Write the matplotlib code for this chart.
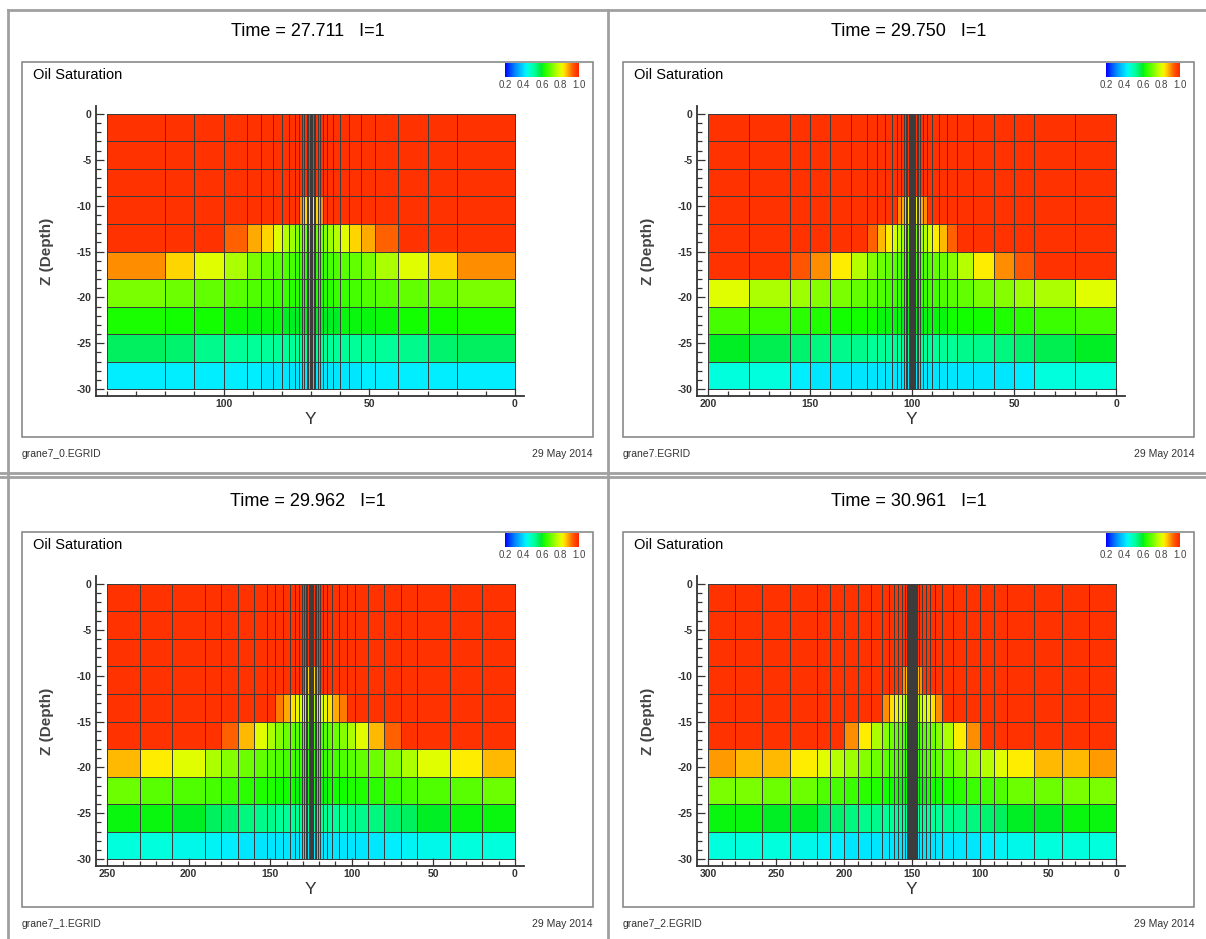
import numpy as np
import matplotlib.pyplot as plt
from matplotlib.colors import LinearSegmentedColormap, Normalize
from matplotlib.cm import ScalarMappable
from matplotlib.ticker import MultipleLocator
from matplotlib.patches import Rectangle
from matplotlib.lines import Line2D

plt.rcParams['font.family'] = ['Liberation Sans', 'DejaVu Sans']
plt.rcParams['axes.unicode_minus'] = False

W, H = 1206, 939

titles = ['Time = 27.711   I=1', 'Time = 29.750   I=1',
          'Time = 29.962   I=1', 'Time = 30.961   I=1']
grid_files = ['grane7_0.EGRID', 'grane7.EGRID', 'grane7_1.EGRID', 'grane7_2.EGRID']
date_label = '29 May 2014'
bar_ticks = [0.2, 0.4, 0.6, 0.8, 1.0]

# layer tops/bottoms (m), 10 layers of 3
z_edges = [0, -3, -6, -9, -12, -15, -18, -21, -24, -27, -30]

# cell widths in Y, from the outer edge towards the well (grid is mirrored)
half_widths_p1 = [20, 10, 10, 8, 5, 4, 3, 2.5, 2, 1.5, 1, .75, .75, .5, .5, .5]
half_widths_p2 = [20, 20, 10, 10, 10, 8, 5, 4, 3, 2.5, 2, 1.5, 1, .75, .75, .5, .5, .5]
half_widths_p3 = [20, 20, 20, 10, 10, 10, 8, 5, 5, 4, 3, 2.5, 2, 1.5, 1, .75, .75, .5, .5, .5]
half_widths_p4 = [20, 20, 20, 20, 10, 10, 10, 10, 8, 5, 4, 3, 2.5, 2, 1.5, 1, .75, .75, .5, .5, .5]

# oil saturation per layer (top first), outer edge -> centre
sat_p1 = [
    [.98] * 16,
    [.98] * 16,
    [.98] * 16,
    [.98] * 10 + [.9, .88, .85, .83, .81, .8],
    [.98, .98, .98, .93, .88, .85, .8, .76, .74, .72, .71, .7, .7, .7, .7, .7],
    [.9, .85, .8, .75, .71, .69, .68, .67, .66, .65, .65, .64, .64, .64, .64, .64],
    [.71, .7, .69, .68, .67, .66, .65, .65, .64, .64, .63, .63, .63, .63, .63, .63],
    [.625, .62, .62, .615, .61, .61, .61, .6, .6, .6, .6, .6, .6, .6, .6, .6],
    [.56, .55, .53] + [.52] * 13,
    [.42, .42, .42, .42, .42] + [.41] * 11,
]
sat_p2 = [
    [.98] * 18,
    [.98] * 18,
    [.98] * 18,
    [.98] * 10 + [.9, .88, .86, .83, .82, .81, .8, .8],
    [.98] * 6 + [.93, .87, .83, .79, .76, .74, .73, .72, .72, .72, .72, .72],
    [.98, .98, .94, .9, .83, .76, .72, .7, .69, .68, .67, .67, .66, .66, .66, .66, .66, .66],
    [.8, .75, .74, .72, .71, .69, .68, .67, .66, .66, .65, .65, .64, .64, .64, .64, .64, .64],
    [.66, .65, .64, .63, .62, .62, .62, .61, .61, .61, .61, .6, .6, .6, .6, .6, .6, .6],
    [.6, .57, .55, .54, .53, .53] + [.52] * 12,
    [.45, .45, .42] + [.41] * 15,
]
sat_p3 = [
    [.98] * 20,
    [.98] * 20,
    [.98] * 20,
    [.98] * 14 + [.9, .87, .85, .82, .81, .8],
    [.98] * 8 + [.91, .88, .84, .81, .79, .77, .76, .75, .75, .75, .75, .75],
    [.98, .98, .98, .98, .93, .87, .8, .75, .72, .7, .69, .68, .67, .66, .66, .65, .65, .65, .65, .65],
    [.87, .83, .8, .75, .72, .7, .69, .68, .67, .66, .66, .65, .65, .64, .64, .64, .64, .64, .64, .64],
    [.7, .68, .67, .66, .65, .64, .63, .63, .62, .62, .62, .61, .61, .61, .61, .61, .61, .61, .61, .61],
    [.61, .61, .6, .56, .55, .54, .53, .53] + [.52] * 12,
    [.45, .45, .44, .43, .42] + [.41] * 15,
]
sat_p4 = [
    [.98] * 21,
    [.98] * 21,
    [.98] * 21,
    [.98] * 13 + [.9, .87, .86, .84, .83, .82, .8, .8],
    [.98] * 9 + [.9, .84, .81, .79, .77, .76, .75, .75, .75, .75, .75, .75],
    [.98] * 6 + [.9, .83, .75, .72, .7, .69, .68, .67, .66, .66, .65, .65, .65, .65, .65],
    [.89, .87, .87, .83, .8, .76, .74, .72, .7, .69, .68, .67, .66, .65, .65, .64, .64, .64, .64, .64, .64],
    [.71, .71, .7, .7, .67, .66, .65, .64, .63, .62, .62, .62, .61, .61, .61, .61, .61, .61, .61, .61, .61],
    [.61, .61, .6, .6, .56, .55, .54, .53, .53] + [.52] * 12,
    [.45, .45, .45, .44, .43, .42] + [.41] * 15,
]

# tecplot-like rainbow
cmap_values = [0.2, 0.3, 0.4, 0.42, 0.45, 0.52, 0.56, 0.6, 0.62, 0.66, 0.71,
               0.75, 0.8, 0.83, 0.87, 0.9, 0.94, 0.98, 1.0]
cmap_colors = ['#0000ff', '#0080ff', '#00ddff', '#00eeff', '#00ffdd', '#00ff99',
               '#00f060', '#00ee22', '#11ff00', '#44ff00', '#77ff00', '#aaff00',
               '#ddff00', '#ffee00', '#ffbb00', '#ff8c00', '#ff5500', '#ff3300', '#ff2a00']
norm = Normalize(0.2, 1.0)
cmap = LinearSegmentedColormap.from_list(
    'sat', [((v - 0.2) / 0.8, c) for v, c in zip(cmap_values, cmap_colors)])

panels = [
    (0, 0, half_widths_p1, sat_p1),
    (601, 0, half_widths_p2, sat_p2),
    (0, 470, half_widths_p3, sat_p3),
    (601, 470, half_widths_p4, sat_p4),
]

fig = plt.figure(figsize=(W / 100, H / 100), dpi=100)


def px_axes(x0, y0, x1, y1):
    return fig.add_axes([x0 / W, 1 - y1 / H, (x1 - x0) / W, (y1 - y0) / H])


def ftext(x, y, s, **kw):
    fig.text(x / W, 1 - y / H, s, **kw)


# panel separators
sep = dict(color='#a0a0a0', lw=2, transform=fig.transFigure)
fig.add_artist(Line2D([8 / W, 1], [1 - 10 / H] * 2, **sep))
fig.add_artist(Line2D([0, 1], [1 - 473 / H] * 2, **sep))
fig.add_artist(Line2D([0, 1], [1 - 477 / H] * 2, **sep))
fig.add_artist(Line2D([8 / W] * 2, [0, 1 - 10 / H], **sep))
fig.add_artist(Line2D([608 / W] * 2, [0, 1 - 10 / H], **sep))

for i, (ox, oy, half, sat) in enumerate(panels):
    widths = half + half[::-1]
    x_edges = np.concatenate([[0], np.cumsum(widths)])
    values = np.array([row + row[::-1] for row in sat])
    wtot = x_edges[-1]

    ftext(ox + 308, oy + 31, titles[i], ha='center', va='center', fontsize=13)
    fig.add_artist(Rectangle(((ox + 22) / W, 1 - (oy + 437) / H), 571 / W, 375 / H,
                             transform=fig.transFigure, fill=False,
                             edgecolor='#8a8a8a', lw=1.2))
    ftext(ox + 33, oy + 75, 'Oil Saturation', ha='left', va='center', fontsize=10.5)
    ftext(ox + 22, oy + 454, grid_files[i], ha='left', va='center', fontsize=7.5,
          color='#333333')
    ftext(ox + 593, oy + 454, date_label, ha='right', va='center', fontsize=7.5,
          color='#333333')

    # colour legend
    cax = px_axes(ox + 505, oy + 63, ox + 579, oy + 77)
    cb = fig.colorbar(ScalarMappable(norm=norm, cmap=cmap), cax=cax,
                      orientation='horizontal', ticks=bar_ticks)
    cb.outline.set_visible(False)
    cb.set_ticklabels([f'{t:.1f}' for t in bar_ticks])
    cax.tick_params(length=0, labelsize=7, pad=2, labelcolor='#444444')

    ax = px_axes(ox + 96, oy + 106, ox + 524, oy + 396)
    ax.pcolormesh(x_edges, z_edges, values, cmap=cmap, norm=norm,
                  edgecolors='#3c3c3c', linewidth=0.5)
    ax.set_xlim(wtot * (1 + 11 / 408), -wtot * 9 / 408)
    ax.set_ylim(-30.76, 0.87)
    for side in ['top', 'right']:
        ax.spines[side].set_visible(False)
    for side in ['left', 'bottom']:
        ax.spines[side].set_color('#333333')
        ax.spines[side].set_linewidth(1.3)
    ax.xaxis.set_major_locator(MultipleLocator(50))
    ax.xaxis.set_minor_locator(MultipleLocator(10))
    ax.yaxis.set_major_locator(MultipleLocator(5))
    ax.yaxis.set_minor_locator(MultipleLocator(1))
    ax.tick_params(which='both', direction='in', color='#333333', width=0.9)
    ax.tick_params(which='major', length=5.5, labelsize=7.5, labelcolor='#333333', pad=3)
    ax.tick_params(axis='x', which='major', pad=2)
    ax.tick_params(which='minor', length=3.3)
    for lab in ax.get_xticklabels() + ax.get_yticklabels():
        lab.set_fontweight('bold')

    ftext(ox + 310, oy + 419, 'Y', ha='center', va='center', fontsize=12.5,
          color='#333333')
    ftext(ox + 47, oy + 251, 'Z (Depth)', ha='center', va='center', fontsize=11,
          fontweight='bold', rotation=90, color='#444444')

fig.savefig('out.png', dpi=100, facecolor='white')
